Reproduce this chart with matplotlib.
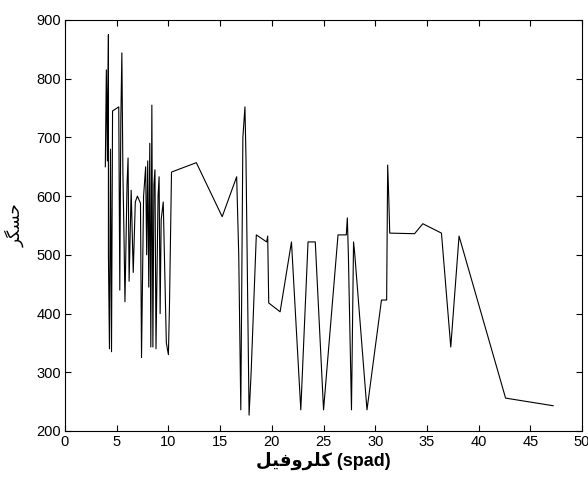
import matplotlib
matplotlib.use("Agg")
import matplotlib.pyplot as plt

# chlorophyll (spad) readings and sensor values, in plotted order
chlorophyll = [3.9, 4.0, 4.1, 4.2, 4.2, 4.3, 4.4, 4.5, 4.6, 5.2, 5.3, 5.4, 5.5, 5.6,
               5.7, 5.8, 6.0, 6.1, 6.2, 6.4, 6.6, 6.8, 7.0, 7.3, 7.4, 7.6, 7.8, 7.9,
               8.0, 8.1, 8.2, 8.3, 8.4, 8.5, 8.6, 8.7, 8.8, 9.0, 9.1, 9.2, 9.3, 9.5,
               9.8, 10.0, 10.1,
               10.3, 12.7, 15.2, 16.6, 16.8, 17.0, 17.2, 17.4, 17.5, 17.8, 18.0, 18.5,
               19.5, 19.6, 19.7, 20.8, 21.9, 22.8, 23.5, 24.2, 25.0, 26.4, 27.2, 27.3,
               27.4, 27.7, 27.9, 28.0, 29.2, 30.6, 31.1, 31.2, 31.3, 31.4, 33.8, 34.6,
               36.4, 37.3, 38.1, 42.6, 47.2]
sensor = [650, 815, 660, 875, 500, 340, 680, 335, 745, 752, 440, 730, 844, 640,
          540, 420, 620, 665, 455, 610, 470, 590, 600, 588, 325, 600, 650, 500,
          660, 445, 690, 343, 755, 343, 620, 645, 340, 600, 633, 400, 560, 590,
          350, 330, 410,
          641, 657, 565, 633, 500, 236, 700, 752, 665, 227, 300, 534,
          522, 532, 418, 403, 522, 236, 522, 522, 236, 534, 534, 563,
          500, 236, 522, 505, 236, 423, 423, 653, 600, 537, 536, 553,
          537, 343, 532, 256, 243]

x_ticks = [0, 5, 10, 15, 20, 25, 30, 35, 40, 45, 50]
y_ticks = [200, 300, 400, 500, 600, 700, 800, 900]

# Persian labels in presentation forms, visual order (matplotlib has no Arabic shaping)
xlabel_fa = "\uFEDE\uFBFF\uFED3\uFEED\uFEAE\uFEE0\uFB90"  # کلروفیل
ylabel_fa = "\uFEAE\uFB95\uFEB4\uFEA3"  # حسگر

tick_font = ['Liberation Sans Narrow', 'Liberation Sans', 'DejaVu Sans']
label_font = ['Liberation Sans', 'DejaVu Sans']

fig = plt.figure(figsize=(5.88, 4.83), dpi=100)
ax = fig.add_axes([0.1105, 0.1077, 0.8795, 0.8509])
ax.plot(chlorophyll, sensor, color='black', linewidth=0.8)

ax.set_xlim(0, 50)
ax.set_ylim(200, 900)
ax.set_xticks(x_ticks)
ax.set_yticks(y_ticks)
ax.tick_params(direction='in', top=True, right=True, length=4, width=0.8,
               labelsize=10.5, pad=3)
for lab in ax.get_xticklabels() + ax.get_yticklabels():
    lab.set_family(tick_font)
for s in ax.spines.values():
    s.set_linewidth(0.8)

ax.set_xlabel(xlabel_fa + " (spad)", fontsize=13, family=label_font,
              fontweight='bold', labelpad=2)
ax.set_ylabel(ylabel_fa, fontsize=12, family=label_font, labelpad=8)

fig.savefig("out.png", dpi=100, facecolor='white')
